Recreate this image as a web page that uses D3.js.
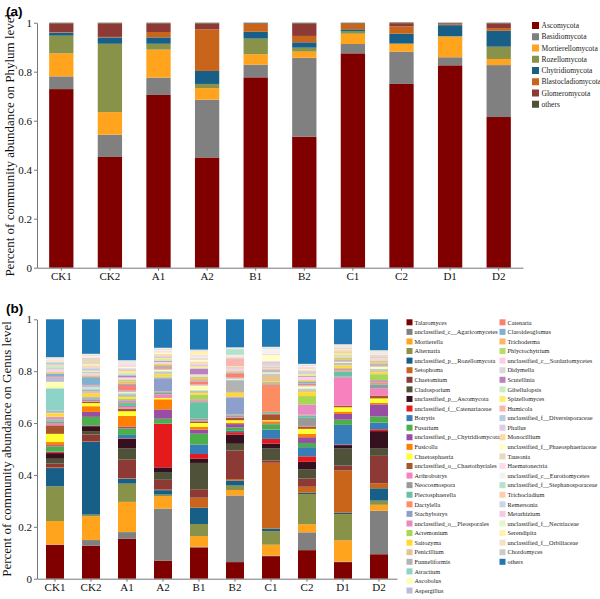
<!DOCTYPE html>
<html><head><meta charset="utf-8">
<script src="https://cdn.jsdelivr.net/npm/d3@7/dist/d3.min.js"></script>
<style>body{margin:0;background:#fff}svg{display:block}</style>
</head><body>
<svg id="c" width="600" height="599"></svg>
<script>
// ---------- DATA ----------
const samples = ["CK1","CK2","A1","A2","B1","B2","C1","C2","D1","D2"];
const yTickValues = [0,0.2,0.4,0.6,0.8,1];
const yTickLabels = ["0","0.2","0.4","0.6","0.8","1"];

const phyla = ["Ascomycota","Basidiomycota","Mortierellomycota","Rozellomycota","Chytridiomycota","Blastocladiomycota","Glomeromycota","others"];
const ascomycota        = [.729,.452,.705,.450,.777,.535,.875,.750,.826,.615];
const basidiomycota     = [.052,.091,.071,.236,.052,.322,.038,.132,.033,.212];
const mortierellomycota = [.094,.092,.114,.047,.042,.025,.042,.031,.084,.025];
const rozellomycota     = [.072,.279,.024,.017,.064,.016,.011,.002,.002,.050];
const chytridiomycota   = [.012,.026,.026,.053,.028,.022,.007,.040,.045,.065];
const blastocladiomycota= [.002,.002,.022,.170,.032,.026,.022,.030,.003,.011];
const glomeromycota     = [.036,.055,.035,.024,.002,.051,.002,.013,.004,.019];
const phylumOthers      = [.003,.003,.003,.003,.003,.003,.003,.003,.003,.003];

const genera = ["Talaromyces","unclassified_c__Agaricomycetes","Mortierella","Alternaria","unclassified_p__Rozellomycota","Setophoma","Chaetomium","Cladosporium","unclassified_p__Ascomycota","unclassified_f__Catenariaceae","Botrytis","Fusarium","unclassified_p__Chytridiomycota","Fusicolla","Chaetosphaeria","unclassified_o__Chaetothyriales","Arthrobotrys","Neocosmospora","Plectosphaerella","Dactylella","Stachybotrys","unclassified_o__Pleosporales","Acremonium","Saitozyma","Penicillium","Funneliformis","Atractium","Ascobolus","Aspergillus","Catenaria","Claroideoglomus","Trichoderma","Phlyctochytrium","unclassified_c__Sordariomycetes","Didymella","Scutellinia","Gibellulopsis","Spizellomyces","Humicola","unclassified_f__Diversisporaceae","Phallus","Monocillium","unclassified_f__Phaeosphaeriaceae","Tausonia","Haematonectria","unclassified_c__Eurotiomycetes","unclassified_f__Stephanosporaceae","Trichocladium","Remersonia","Metarhizium","unclassified_f__Nectriaceae","Serendipita","unclassified_f__Orbiliaceae","Chordomyces","others"];

const genusCK1 = [.131,.002,.091,.135,.071,.003,.015,.018,.022,.004,.002,.020,.005,.012,.032,.033,.006,.008,.006,.002,.002,.008,.002,.012,.003,.008,.087,.025,.019,.003,.010,.004,.003,.008,.003,.002,.010,.002,.003,.008,.002,.003,.001,.002,.003,.002,.001,.001,.001,.001,.001,.001,.001,.001,.147];
const genusCK2 = [.127,.022,.092,.006,.280,.002,.027,.013,.019,.002,.002,.032,.019,.022,.012,.005,.003,.004,.003,.002,.003,.003,.003,.010,.008,.008,.005,.003,.008,.002,.030,.004,.003,.006,.004,.002,.003,.002,.002,.008,.004,.008,.003,.025,.003,.005,.001,.001,.001,.001,.001,.001,.001,.001,.133];
const genusA1  = [.153,.026,.116,.070,.019,.002,.071,.044,.036,.002,.013,.025,.006,.042,.018,.010,.006,.004,.012,.004,.004,.003,.005,.006,.005,.004,.006,.004,.006,.022,.005,.008,.006,.006,.004,.008,.010,.006,.003,.004,.003,.003,.003,.003,.012,.003,.001,.001,.001,.001,.001,.001,.001,.001,.157];
const genusA2  = [.069,.202,.048,.006,.017,.002,.038,.030,.018,.168,.002,.018,.036,.039,.005,.002,.012,.006,.004,.002,.050,.003,.004,.008,.004,.004,.004,.006,.004,.006,.004,.006,.004,.004,.003,.003,.008,.004,.003,.003,.003,.006,.006,.004,.003,.003,.001,.001,.001,.001,.001,.001,.001,.001,.110];
const genusB1  = [.119,.002,.041,.046,.062,.038,.032,.100,.017,.017,.036,.041,.016,.010,.015,.006,.003,.008,.062,.004,.003,.004,.017,.006,.005,.003,.003,.018,.004,.012,.004,.008,.006,.005,.004,.022,.004,.004,.004,.003,.004,.008,.006,.006,.004,.004,.001,.001,.001,.001,.001,.012,.006,.002,.115];
const genusB2  = [.064,.257,.021,.017,.019,.006,.110,.026,.036,.009,.005,.013,.013,.005,.010,.009,.003,.004,.003,.003,.064,.003,.003,.013,.004,.045,.003,.003,.004,.017,.003,.003,.003,.008,.003,.002,.003,.002,.030,.002,.002,.002,.002,.002,.002,.002,.022,.001,.001,.001,.001,.001,.001,.001,.108];
const genusC1  = [.087,.002,.042,.052,.010,.254,.009,.046,.019,.018,.036,.020,.004,.008,.004,.023,.002,.003,.004,.105,.003,.003,.004,.003,.024,.003,.003,.004,.006,.002,.002,.002,.002,.004,.002,.002,.002,.002,.002,.002,.012,.003,.022,.003,.003,.018,.001,.001,.001,.001,.001,.001,.001,.001,.106];
const genusC2  = [.109,.068,.031,.115,.005,.023,.031,.036,.028,.021,.035,.016,.022,.013,.019,.009,.002,.031,.008,.002,.002,.039,.032,.015,.006,.004,.004,.008,.005,.006,.006,.005,.003,.008,.004,.003,.003,.004,.003,.004,.005,.003,.003,.004,.006,.003,.001,.001,.001,.001,.001,.001,.001,.001,.170];
const genusD1  = [.064,.002,.082,.101,.005,.164,.018,.066,.013,.002,.076,.020,.022,.009,.017,.006,.109,.003,.019,.003,.002,.006,.005,.008,.003,.006,.002,.003,.002,.003,.003,.003,.006,.003,.002,.002,.002,.008,.002,.002,.003,.005,.002,.006,.003,.003,.001,.001,.001,.001,.001,.001,.001,.001,.096];
const genusD2  = [.095,.169,.023,.016,.048,.019,.107,.028,.068,.007,.026,.024,.047,.006,.017,.011,.027,.015,.003,.006,.005,.004,.023,.006,.008,.004,.003,.008,.004,.004,.004,.004,.006,.010,.002,.002,.002,.002,.002,.002,.002,.002,.002,.002,.002,.002,.001,.001,.001,.001,.001,.001,.001,.001,.120];

// ---------- STYLES ----------
const phylumColors = ["#800000","#808080","#FFA41C","#889248","#175F86","#C8651B","#8D3A36","#4F5238"];
const genusColors = ["#800000","#808080","#FFA41C","#889248","#175F86","#C8651B","#8D3A36","#4F5238","#35101F",
  "#E41A1C","#377EB8","#4DAF4A","#984EA3","#FF7F00","#FFFF33","#A65628","#F781BF","#999999",
  "#66C2A5","#FC8D62","#8DA0CB","#E78AC3","#A6D854","#FFD92F","#E5C494","#B3B3B3",
  "#8DD3C7","#FFFFB3","#BEBADA","#FB8072","#80B1D3","#FDB462","#B3DE69","#FCCDE5","#D9D9D9","#BC80BD","#CCEBC5","#FFED6F",
  "#FBB4AE","#B3CDE3","#DECBE4","#FED9A6","#FFFFCC","#E5D8BD","#FDDAEC","#F2F2F2",
  "#B3E2CD","#FDCDAC","#CBD5E8","#F4CAE4","#E6F5C9","#FFF2AE","#F1E2CC","#CCCCCC","#1F78B4"];

const serif = "'Liberation Serif','Times New Roman',serif";
const svg = d3.select("#c");

function panel(opts){
  const {rows, keys, colors, x0, x1, yTop, yBot, title, tag, tagY, titleX} = opts;
  const x = d3.scaleBand().domain(samples).range([x0,x1]).paddingInner(0.5).paddingOuter(0.25);
  const y = d3.scaleLinear().domain([0,1]).range([yBot,yTop]);
  const stack = d3.stack().keys(keys)(rows);
  const g = svg.append("g");
  g.selectAll("g.s").data(stack).join("g").attr("fill",(d,i)=>colors[i])
    .selectAll("rect").data(d=>d).join("rect")
    .attr("x",d=>x(d.data.sample)).attr("width",x.bandwidth())
    .attr("y",d=>y(d[1])).attr("height",d=>Math.max(0,y(d[0])-y(d[1])));
  const ya = g.append("g").attr("transform",`translate(${x0},0)`)
    .call(d3.axisLeft(y).tickValues(yTickValues).tickFormat((d,i)=>yTickLabels[i]).tickSize(3).tickSizeOuter(0));
  const xa = g.append("g").attr("transform",`translate(0,${yBot})`)
    .call(d3.axisBottom(x).tickSize(3).tickSizeOuter(0));
  [ya,xa].forEach(a=>{
    a.select(".domain").attr("stroke","#777");
    a.selectAll(".tick line").attr("stroke","#777");
    a.selectAll("text").attr("font-family",serif).attr("font-size",11).attr("fill","#111");
  });
  ya.selectAll("text").attr("x",-5);
  xa.selectAll("text").attr("y",5);
  g.append("text").attr("transform",`translate(${titleX},${(yTop+yBot)/2}) rotate(-90)`)
    .attr("text-anchor","middle").attr("font-family",serif).attr("font-size",13).attr("fill","#111").text(title);
  g.append("text").attr("x",6).attr("y",tagY).attr("font-family","'Liberation Sans',Arial,sans-serif")
    .attr("font-weight","bold").attr("font-size",13.5).attr("fill","#000").text(tag);
}

// Panel (a)
const phylumSeries = [ascomycota,basidiomycota,mortierellomycota,rozellomycota,chytridiomycota,blastocladiomycota,glomeromycota,phylumOthers];
const rowsA = samples.map((s,i)=>{const r={sample:s}; phyla.forEach((p,j)=>r[p]=phylumSeries[j][i]); return r;});
panel({rows:rowsA, keys:phyla, colors:phylumColors, x0:37, x1:523, yTop:22.7, yBot:267.7,
  title:"Percent of community abundance on Phylum level", tag:"(a)", tagY:16, titleX:14});

// Panel (b)
const genusSamples = [genusCK1,genusCK2,genusA1,genusA2,genusB1,genusB2,genusC1,genusC2,genusD1,genusD2];
const rowsB = samples.map((s,i)=>{
  const v = genusSamples[i]; const tot = d3.sum(v);
  const r={sample:s}; genera.forEach((g,j)=>r[g]=v[j]/tot); return r;});
panel({rows:rowsB, keys:genera, colors:genusColors, x0:37, x1:397, yTop:319.3, yBot:578.7,
  title:"Percent of community abundance on Genus level", tag:"(b)", tagY:313, titleX:11});

// Legend (a)
const la = svg.append("g");
phyla.forEach((p,i)=>{
  const yy = 25.5 + i*11.25;
  la.append("rect").attr("x",532).attr("y",yy-3.5).attr("width",7).attr("height",7).attr("fill",phylumColors[i]);
  la.append("text").attr("x",541.5).attr("y",yy+2.5).attr("font-family",serif).attr("font-size",7.5).attr("fill","#222").text(p);
});

// Legend (b)
const lb = svg.append("g");
genera.forEach((gname,i)=>{
  const col = i<29?0:1, row = i<29?i:i-29;
  const yy = 322.3 + row*9.58;
  const xx = col===0?406.5:499.5;
  lb.append("rect").attr("x",xx).attr("y",yy-3).attr("width",6).attr("height",6).attr("fill",genusColors[i]);
  lb.append("text").attr("x",xx+8).attr("y",yy+2.2).attr("font-family",serif).attr("font-size",6.3).attr("fill","#222").text(gname);
});
</script>
</body></html>
